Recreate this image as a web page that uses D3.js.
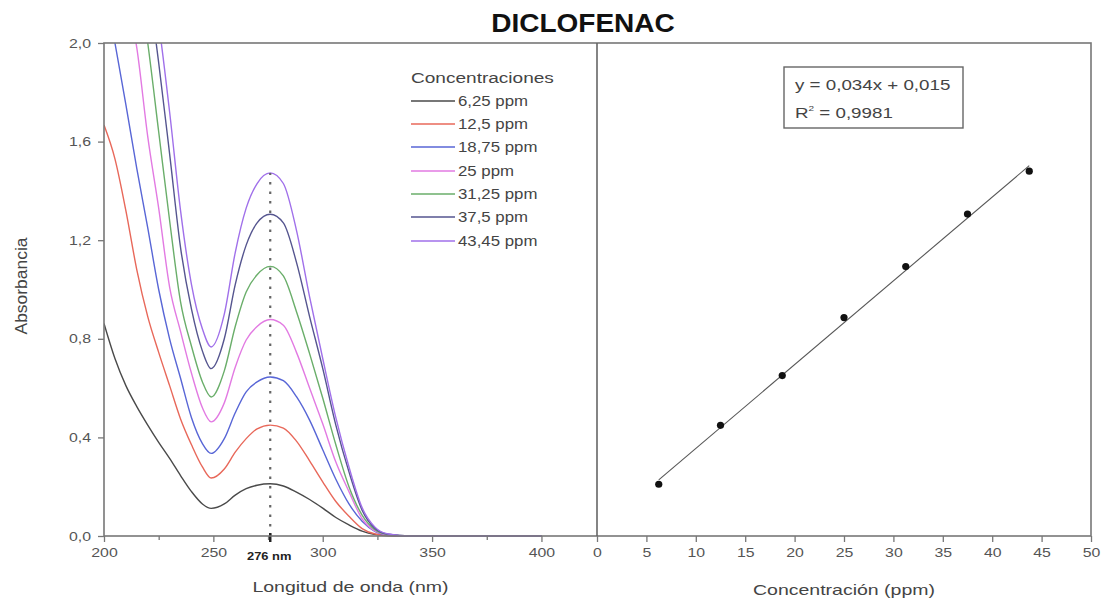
<!DOCTYPE html>
<html>
<head>
<meta charset="utf-8">
<script src="https://cdn.jsdelivr.net/npm/d3@7"></script>
<style>
  body { margin: 0; background: #fff; }
  svg { display: block; font-family: "Liberation Sans", Arial, sans-serif; }
</style>
</head>
<body>
<svg id="chart" width="1104" height="600"></svg>
<script>
// wavelengths (nm) sampled from the spectra
const wavelengths = [200,205,210,215,220,225,230,235,240,245,249,255,260,265,270,276,282,288,294,300,306,312,318,324,330,340,360,400];

// absorbance per concentration (>2 is off-scale)
const abs625  = [0.862,0.72,0.61,0.525,0.45,0.38,0.315,0.245,0.18,0.13,0.112,0.13,0.166,0.192,0.206,0.212,0.203,0.178,0.148,0.113,0.075,0.045,0.02,0.006,0.001,0,0,0];
const abs125  = [1.667,1.53,1.32,1.08,0.89,0.745,0.61,0.475,0.37,0.28,0.235,0.272,0.34,0.395,0.435,0.45,0.438,0.385,0.305,0.22,0.14,0.08,0.03,0.008,0.002,0,0,0];
const abs1875 = [2.25,2.0,1.75,1.49,1.25,1.0,0.8,0.64,0.48,0.375,0.335,0.395,0.5,0.585,0.625,0.645,0.63,0.565,0.47,0.35,0.23,0.13,0.06,0.018,0.004,0,0,0];
const abs25   = [2.6,2.4,2.2,1.98,1.62,1.33,1.01,0.83,0.66,0.52,0.463,0.54,0.685,0.795,0.85,0.878,0.855,0.745,0.6,0.455,0.3,0.18,0.07,0.02,0.005,0,0,0];
const abs3125 = [2.9,2.7,2.5,2.3,2.0,1.64,1.28,0.95,0.77,0.625,0.564,0.67,0.85,0.99,1.06,1.094,1.055,0.91,0.74,0.56,0.37,0.2,0.085,0.025,0.006,0,0,0];
const abs375  = [3.1,2.95,2.75,2.5,2.25,1.92,1.55,1.17,0.92,0.75,0.679,0.8,1.02,1.18,1.27,1.305,1.27,1.11,0.89,0.68,0.45,0.26,0.105,0.03,0.007,0,0,0];
const abs4345 = [3.2,3.05,2.85,2.6,2.35,2.08,1.72,1.32,1.02,0.84,0.767,0.9,1.15,1.33,1.43,1.473,1.43,1.24,0.97,0.72,0.48,0.28,0.115,0.035,0.008,0,0,0];

const seriesNames = ["6,25 ppm","12,5 ppm","18,75 ppm","25 ppm","31,25 ppm","37,5 ppm","43,45 ppm"];
const seriesColors = ["#4a4a4a","#e8685a","#5866d6","#e27ae2","#6aae6a","#55558f","#a070ea"];
const seriesValues = [abs625, abs125, abs1875, abs25, abs3125, abs375, abs4345];

// calibration curve
const concentrations = [6.25, 12.5, 18.75, 25, 31.25, 37.5, 43.75];
const absorbances = [0.21, 0.449, 0.651, 0.886, 1.093, 1.306, 1.48];
const slope = 0.034, intercept = 0.015;

const peakNm = 276;
const xTicksL = [200, 250, 300, 350, 400];
const xMinorL = [225, 275, 325, 375];
const yTicks = [0, 0.4, 0.8, 1.2, 1.6, 2.0];
const xTicksR = [0, 5, 10, 15, 20, 25, 30, 35, 40, 45, 50];

const svg = d3.select("#chart");
const pLeft = 104, pTop = 43, pMid = 597, pRight = 1091, pBottom = 536;

const xL = d3.scaleLinear().domain([200, 425.4]).range([pLeft, pMid]);
const xR = d3.scaleLinear().domain([0, 50]).range([pMid, pRight]);
const y = d3.scaleLinear().domain([0, 2]).range([pBottom, pTop]);

const comma = d => d3.format(".1f")(d).replace(".", ",");

// stretch text horizontally, the source picture is wide
function stretch(sel, k) {
    sel.each(function() {
        const w = this.getComputedTextLength();
        d3.select(this).attr("textLength", w * k).attr("lengthAdjust", "spacingAndGlyphs");
    });
}

svg.append("clipPath").attr("id", "clipL")
    .append("rect").attr("x", pLeft).attr("y", pTop).attr("width", pMid - pLeft).attr("height", pBottom - pTop + 1);

// spectra
const line = d3.line()
    .x((d, i) => xL(wavelengths[i]))
    .y(d => y(d))
    .curve(d3.curveMonotoneX);

svg.append("g").attr("clip-path", "url(#clipL)")
    .selectAll("path")
    .data(seriesValues)
    .enter().append("path")
    .attr("d", line)
    .attr("fill", "none")
    .attr("stroke", (d, i) => seriesColors[i])
    .attr("stroke-width", 1.4);

// dotted line at the peak
const peakMax = d3.max(seriesValues, s => s[wavelengths.indexOf(peakNm)]);
svg.append("line")
    .attr("x1", xL(peakNm)).attr("x2", xL(peakNm))
    .attr("y1", y(0)).attr("y2", y(peakMax))
    .attr("stroke", "#666").attr("stroke-width", 2.2)
    .attr("stroke-dasharray", "2.5,7");

// axes
svg.append("g").attr("transform", `translate(0,${pBottom})`)
    .call(d3.axisBottom(xL).tickValues(xTicksL).tickSize(6).tickPadding(6).tickFormat(d3.format("d")));
svg.append("g").attr("transform", `translate(0,${pBottom})`)
    .call(d3.axisBottom(xL).tickValues(xMinorL).tickSize(4).tickFormat(""));
svg.append("g").attr("transform", `translate(${pLeft},0)`)
    .call(d3.axisLeft(y).tickValues(yTicks).tickSize(6).tickPadding(7).tickFormat(comma));
svg.append("g").attr("transform", `translate(0,${pBottom})`)
    .call(d3.axisBottom(xR).tickValues(xTicksR).tickSize(6).tickPadding(6).tickFormat(d3.format("d")));

svg.selectAll(".domain").remove();
svg.selectAll(".tick line").attr("stroke", "#777").attr("stroke-width", 1.3);
svg.selectAll(".tick text")
    .attr("font-size", 13).attr("fill", "#555")
    .attr("font-family", "Liberation Sans, Arial, sans-serif");
stretch(svg.selectAll(".tick text"), 1.22);

// peak marker on the axis
svg.append("line")
    .attr("x1", xL(peakNm)).attr("x2", xL(peakNm))
    .attr("y1", pBottom - 3).attr("y2", pBottom + 6)
    .attr("stroke", "#222").attr("stroke-width", 2.5);
svg.append("text")
    .attr("x", xL(peakNm) - 1).attr("y", 560)
    .attr("text-anchor", "middle")
    .attr("font-size", 11.5).attr("font-weight", "bold").attr("fill", "#222")
    .text(peakNm + " nm")
    .call(stretch, 1.12);

// frame
svg.append("rect")
    .attr("x", pLeft).attr("y", pTop).attr("width", pRight - pLeft).attr("height", pBottom - pTop)
    .attr("fill", "none").attr("stroke", "#777").attr("stroke-width", 1.6);
svg.append("line")
    .attr("x1", pMid).attr("x2", pMid).attr("y1", pTop).attr("y2", pBottom)
    .attr("stroke", "#666").attr("stroke-width", 1.6);

// calibration line + points
svg.append("line")
    .attr("x1", xR(concentrations[0])).attr("y1", y(slope * concentrations[0] + intercept))
    .attr("x2", xR(concentrations[6])).attr("y2", y(slope * concentrations[6] + intercept))
    .attr("stroke", "#555").attr("stroke-width", 1.1);
svg.append("g").selectAll("circle")
    .data(concentrations)
    .enter().append("circle")
    .attr("cx", d => xR(d))
    .attr("cy", (d, i) => y(absorbances[i]))
    .attr("r", 3.6)
    .attr("fill", "#111");

// equation box
svg.append("rect")
    .attr("x", 784).attr("y", 67).attr("width", 179).attr("height", 61)
    .attr("fill", "#fff").attr("stroke", "#666").attr("stroke-width", 1.4);
svg.append("text")
    .attr("x", 795).attr("y", 90)
    .attr("font-size", 15).attr("fill", "#444")
    .text("y = 0,034x + 0,015")
    .call(stretch, 1.25);
const r2 = svg.append("text")
    .attr("x", 795).attr("y", 118)
    .attr("font-size", 15).attr("fill", "#444");
r2.append("tspan").text("R");
r2.append("tspan").attr("font-size", 8).attr("dy", -7).text("2");
r2.append("tspan").attr("dy", 7).text(" = 0,9981");
r2.call(stretch, 1.25);

// legend
const legend = svg.append("g").attr("transform", "translate(411,0)");
legend.append("text")
    .attr("x", 0).attr("y", 83)
    .attr("font-size", 14).attr("fill", "#444")
    .text("Concentraciones")
    .call(stretch, 1.36);
const rowY = [101, 124, 147, 171, 194, 217, 241];
const rows = legend.selectAll(".row")
    .data(seriesNames)
    .enter().append("g")
    .attr("transform", (d, i) => `translate(0,${rowY[i]})`);
rows.append("line")
    .attr("x1", 0).attr("x2", 44)
    .attr("stroke", (d, i) => seriesColors[i]).attr("stroke-width", 1.4);
rows.append("text")
    .attr("x", 47).attr("y", 5)
    .attr("font-size", 14).attr("fill", "#444")
    .text(d => d)
    .call(stretch, 1.2);

// titles
svg.append("text")
    .attr("x", 583).attr("y", 32)
    .attr("text-anchor", "middle")
    .attr("font-size", 25).attr("font-weight", "bold").attr("fill", "#111")
    .text("DICLOFENAC")
    .call(stretch, 1.12);
svg.append("text")
    .attr("x", (pLeft + pMid) / 2).attr("y", 592)
    .attr("text-anchor", "middle")
    .attr("font-size", 15).attr("fill", "#444")
    .text("Longitud de onda (nm)")
    .call(stretch, 1.3);
svg.append("text")
    .attr("x", (pMid + pRight) / 2).attr("y", 595)
    .attr("text-anchor", "middle")
    .attr("font-size", 15).attr("fill", "#444")
    .text("Concentración (ppm)")
    .call(stretch, 1.3);
svg.append("text")
    .attr("transform", "translate(27,286) rotate(-90)")
    .attr("text-anchor", "middle")
    .attr("font-size", 16).attr("fill", "#444")
    .text("Absorbancia")
    .attr("textLength", 97).attr("lengthAdjust", "spacingAndGlyphs");
</script>
</body>
</html>
